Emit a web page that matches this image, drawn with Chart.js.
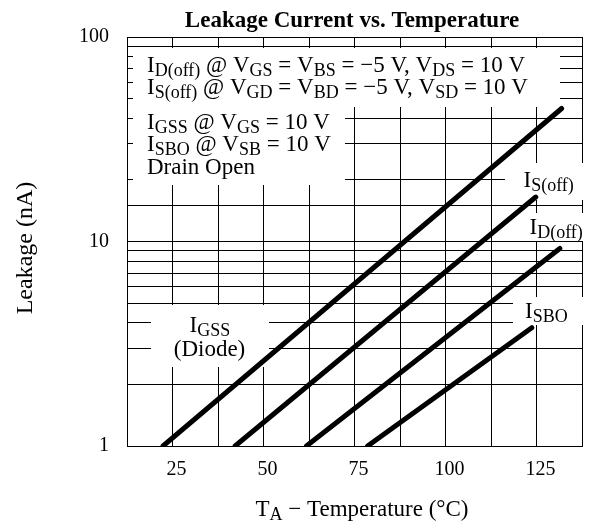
<!DOCTYPE html>
<html>
<head>
<meta charset="utf-8">
<script src="https://cdn.jsdelivr.net/npm/chart.js@4.4.1/dist/chart.umd.min.js"></script>
<style>
  body { margin: 0; background: #fff; }
</style>
</head>
<body>
<canvas id="myChart" width="594" height="527"></canvas>
<script>
// values (T in °C, leakage in nA)
const seriesNames = ['IGSS', 'IS(off)', 'ID(off)', 'ISBO'];
const tempStart = [22.4, 42.2, 61.8, 78.6];
const leakStart = [1, 1, 1, 1];
const tempEnd = [131.9, 124.8, 131.4, 123.7];
const leakEnd = [44.7, 16.5, 9.25, 3.79];
const xTickLabels = [25, 50, 75, 100, 125];
const yTickLabels = [1, 10, 100];

const SERIF = '"Liberation Serif", "DejaVu Serif", serif';
const MAIN = 23, SUB = 18, DROP = 4;

// parts are [text, isSubscript]
function richWidth(ctx, parts) {
    var w = 0;
    parts.forEach(p => {
        ctx.font = (p[1] ? SUB : MAIN) + 'px ' + SERIF;
        w += ctx.measureText(p[0]).width;
    });
    return w;
}

function drawRich(ctx, parts, x, y, align) {
    if (align == 'center') x -= richWidth(ctx, parts) / 2;
    ctx.textAlign = 'left';
    ctx.textBaseline = 'alphabetic';
    parts.forEach(p => {
        ctx.font = (p[1] ? SUB : MAIN) + 'px ' + SERIF;
        ctx.fillText(p[0], x, p[1] ? y + DROP : y);
        x += ctx.measureText(p[0]).width;
    });
}

// white boxes behind the labels, px from chart area top-left
const boxes = [
    [6, 11, 433, 70],
    [6, 11, 218, 148],
    [378, 126, 460, 163],
    [388, 176, 460, 204],
    [386, 260, 457, 288],
    [24, 268, 142, 330]
];

const labels = [
    {x: 20, y: 35, parts: [['I',0],['D(off)',1],[' @ V',0],['GS',1],[' = V',0],['BS',1],[' = \u22125 V, V',0],['DS',1],[' = 10 V',0]]},
    {x: 20, y: 57, parts: [['I',0],['S(off)',1],[' @ V',0],['GD',1],[' = V',0],['BD',1],[' = \u22125 V, V',0],['SD',1],[' = 10 V',0]]},
    {x: 20, y: 91.5, parts: [['I',0],['GSS',1],[' @ V',0],['GS',1],[' = 10 V',0]]},
    {x: 20, y: 113.5, parts: [['I',0],['SBO',1],[' @ V',0],['SB',1],[' = 10 V',0]]},
    {x: 20, y: 136.5, parts: [['Drain Open',0]]},
    {x: 396.5, y: 150, parts: [['I',0],['S(off)',1]]},
    {x: 402.5, y: 196.5, parts: [['I',0],['D(off)',1]]},
    {x: 398, y: 280.5, parts: [['I',0],['SBO',1]]},
    {x: 62.5, y: 295, parts: [['I',0],['GSS',1]]},
    {x: 82.5, y: 319, parts: [['(Diode)',0]], align: 'center'}
];

const notes = {
    id: 'notes',
    beforeDatasetsDraw(chart) {
        const ctx = chart.ctx, a = chart.chartArea;
        ctx.save();
        ctx.fillStyle = '#ffffff';
        boxes.forEach(b => ctx.fillRect(a.left + b[0], a.top + b[1], b[2] - b[0], b[3] - b[1]));
        ctx.fillStyle = '#000000';
        labels.forEach(l => drawRich(ctx, l.parts, a.left + l.x, a.top + l.y, l.align));
        ctx.restore();
    },
    afterDraw(chart) {
        const ctx = chart.ctx;
        ctx.save();
        ctx.fillStyle = '#000000';
        ctx.font = 'bold 23px ' + SERIF;
        ctx.textAlign = 'center';
        ctx.textBaseline = 'alphabetic';
        ctx.fillText('Leakage Current vs. Temperature', 352, 27);
        drawRich(ctx, [['T',0],['A',1],[' \u2212 Temperature (\u00b0C)',0]], 362, 516, 'center');
        // y axis title, a little below the axis middle like the original
        ctx.translate(26, 248);
        ctx.rotate(-Math.PI / 2);
        ctx.font = '24px ' + SERIF;
        ctx.textAlign = 'center';
        ctx.textBaseline = 'middle';
        ctx.fillText('Leakage (nA)', 0, 0);
        ctx.restore();
    }
};

document.addEventListener('DOMContentLoaded', () => {

    const ctx = document.getElementById('myChart').getContext('2d');

    const data = {
        datasets: seriesNames.map((name, i) => ({
            label: name,
            data: [{x: tempStart[i], y: leakStart[i]}, {x: tempEnd[i], y: leakEnd[i]}],
            borderColor: '#000000',
            backgroundColor: '#000000',
            borderWidth: 5,
            borderCapStyle: 'round',
            pointRadius: 0,
            tension: 0,
            fill: false
        }))
    };

    const config = {
        type: 'line',
        data: data,
        options: {
            responsive: false,
            animation: false,
            layout: {
                padding: {left: 0, right: 7, top: 37, bottom: 0}
            },
            plugins: {
                legend: {display: false},
                title: {display: false},
                tooltip: {enabled: false}
            },
            scales: {
                x: {
                    type: 'linear',
                    min: 12.5,
                    max: 137.5,
                    afterFit: s => { s.height = 81; },
                    grid: {color: '#000000', lineWidth: 1, drawTicks: false},
                    border: {color: '#000000', width: 1},
                    ticks: {
                        stepSize: 12.5,
                        autoSkip: false,
                        maxRotation: 0,
                        padding: 12,
                        labelOffset: 4,
                        color: '#000000',
                        font: {family: SERIF, size: 20},
                        callback: v => xTickLabels.includes(v) ? String(v) : ''
                    }
                },
                y: {
                    type: 'logarithmic',
                    min: 1,
                    max: 100,
                    afterFit: s => { s.width = 127; },
                    grid: {color: '#000000', lineWidth: 1, drawTicks: false},
                    border: {color: '#000000', width: 1},
                    ticks: {
                        autoSkip: false,
                        padding: 18,
                        color: '#000000',
                        font: {family: SERIF, size: 20},
                        callback: v => yTickLabels.includes(v) ? String(v) : ''
                    }
                }
            }
        },
        plugins: [notes]
    };

    var chart = new Chart(ctx, config);
});
</script>
</body>
</html>
